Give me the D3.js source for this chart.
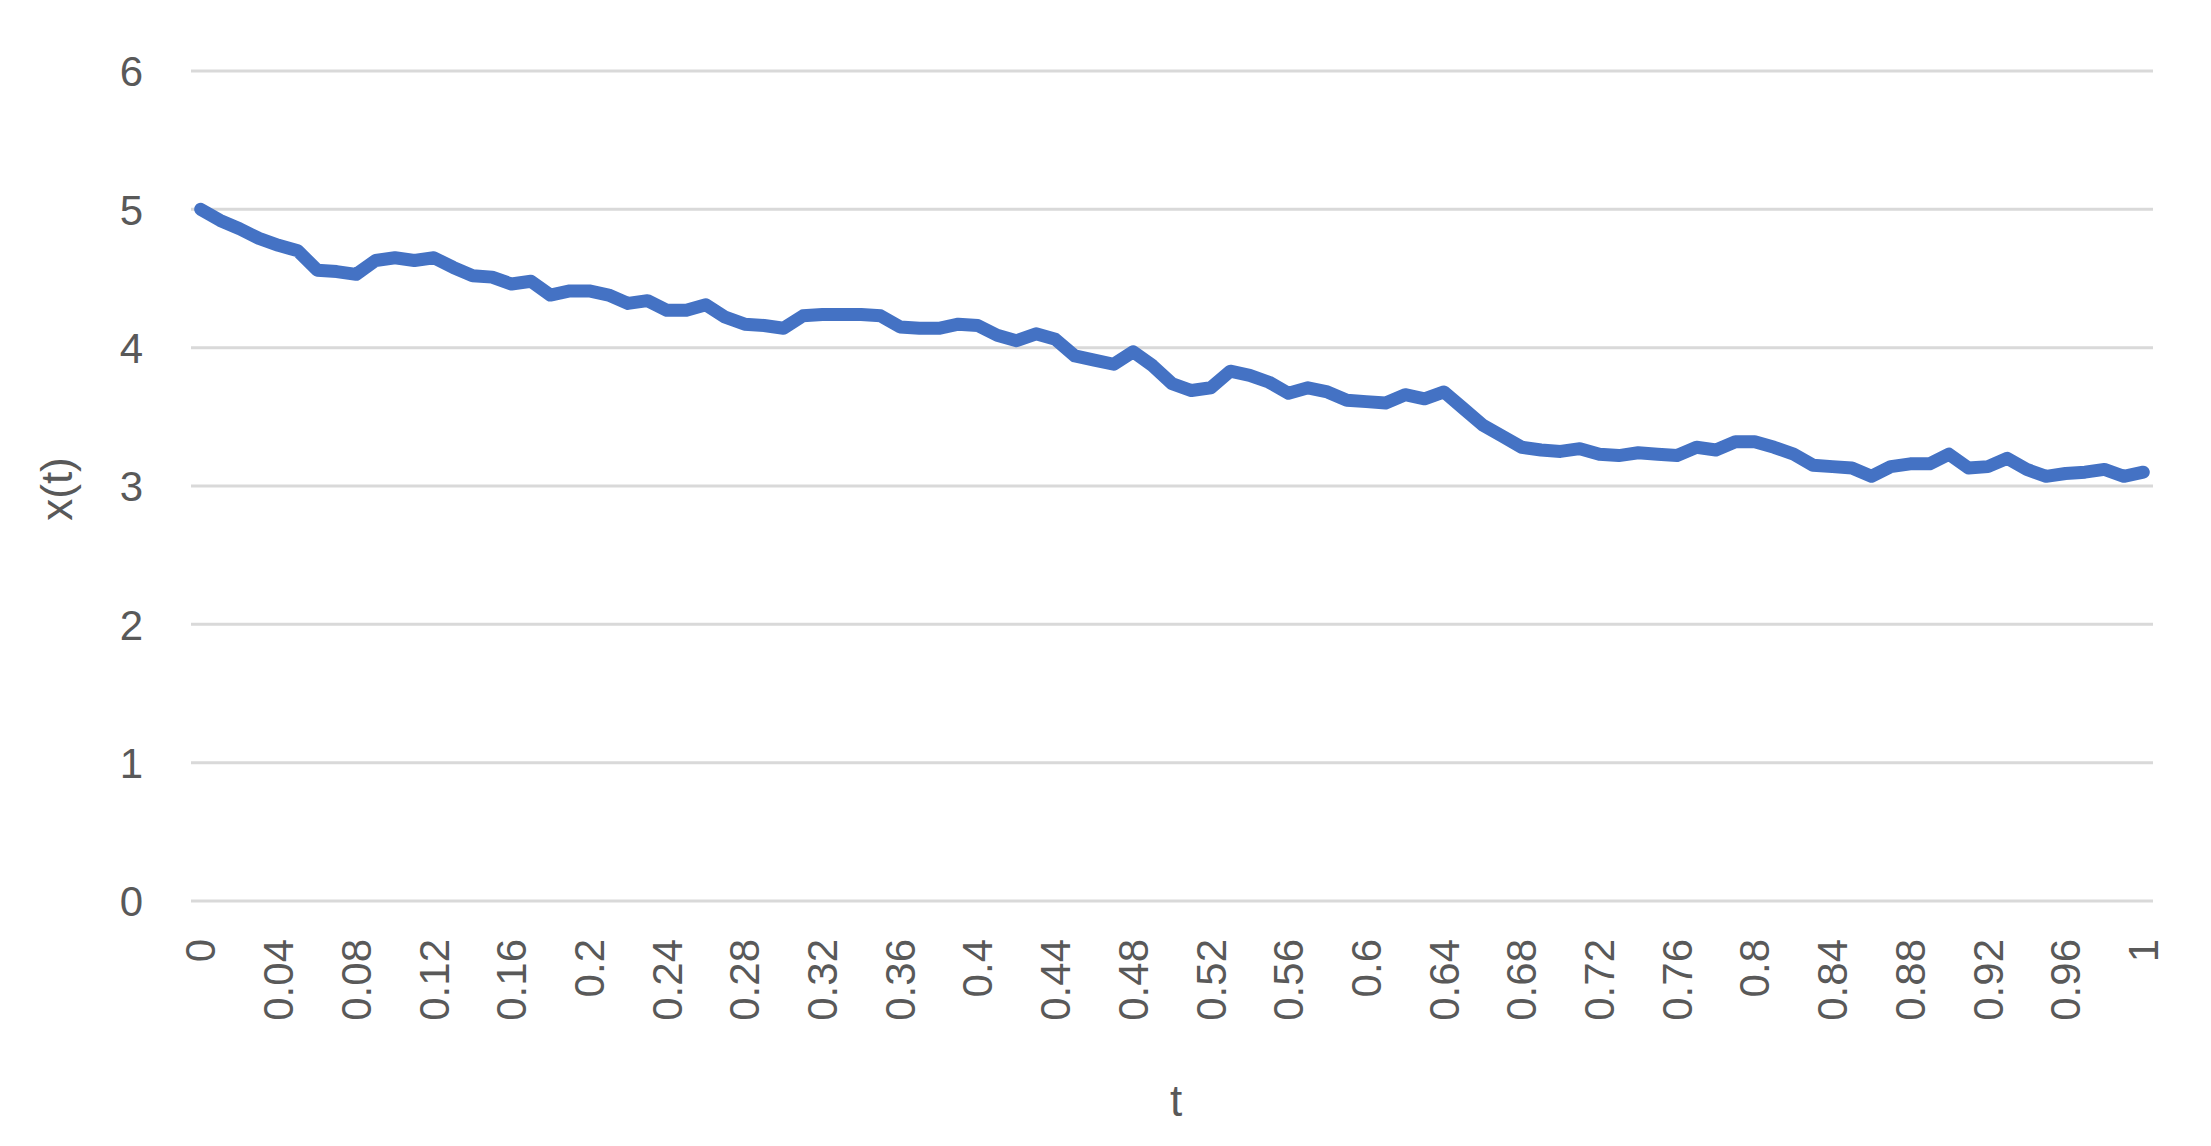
<!DOCTYPE html>
<html>
<head>
<meta charset="utf-8">
<script src="https://cdn.jsdelivr.net/npm/d3@7"></script>
<style>
  body { margin: 0; background: #fff; }
  text { font-family: "Liberation Sans", Arial, sans-serif; fill: #595959; }
</style>
</head>
<body>
<svg id="chart" width="2211" height="1146"></svg>
<script>
// t = 0, 0.01, ..., 1
const tValues = d3.range(101).map(i => +(i / 100).toFixed(2));
const xValues = [
  5.00, 4.92, 4.86, 4.79, 4.74, 4.70, 4.56, 4.55, 4.53, 4.63,
  4.65, 4.63, 4.65, 4.58, 4.52, 4.51, 4.46, 4.48, 4.38, 4.41,
  4.41, 4.38, 4.32, 4.34, 4.27, 4.27, 4.31, 4.22, 4.17, 4.16,
  4.14, 4.23, 4.24, 4.24, 4.24, 4.23, 4.15, 4.14, 4.14, 4.17,
  4.16, 4.09, 4.05, 4.10, 4.06, 3.94, 3.91, 3.88, 3.97, 3.87,
  3.74, 3.69, 3.71, 3.83, 3.80, 3.75, 3.67, 3.71, 3.68, 3.62,
  3.61, 3.60, 3.66, 3.63, 3.68, 3.56, 3.44, 3.36, 3.28, 3.26,
  3.25, 3.27, 3.23, 3.22, 3.24, 3.23, 3.22, 3.28, 3.26, 3.32,
  3.32, 3.28, 3.23, 3.15, 3.14, 3.13, 3.07, 3.14, 3.16, 3.16,
  3.23, 3.13, 3.14, 3.20, 3.12, 3.07, 3.09, 3.10, 3.12, 3.07,
  3.10
];
const yTicks = [0, 1, 2, 3, 4, 5, 6];
const xTickLabels = tValues.filter((d, i) => i % 4 === 0);

const svg = d3.select("#chart");
const margin = {left: 191, right: 58, top: 71, bottom: 245};
const width = 2211 - margin.left - margin.right;
const height = 1146 - margin.top - margin.bottom;

const g = svg.append("g").attr("transform", `translate(${margin.left},${margin.top})`);

const x = d3.scaleBand().domain(tValues).range([0, width]);
const y = d3.scaleLinear().domain([0, 6]).range([height, 0]);

// gridlines
g.selectAll(".grid")
  .data(yTicks)
  .enter().append("line")
  .attr("x1", 0).attr("x2", width)
  .attr("y1", d => y(d)).attr("y2", d => y(d))
  .attr("stroke", "#d9d9d9")
  .attr("stroke-width", 3);

// y axis labels
const yAxis = d3.axisLeft(y).tickValues(yTicks).tickSize(0).tickPadding(0).tickFormat(d3.format("d"));
const yg = g.append("g").call(yAxis);
yg.select(".domain").remove();
yg.selectAll("text")
  .attr("x", -48)
  .attr("dy", "0.35em")
  .style("font-size", "42px")
  .style("font-family", "Liberation Sans, Arial, sans-serif")
  .attr("fill", "#595959");

// x axis labels (rotated)
const xAxis = d3.axisBottom(x).tickValues(xTickLabels).tickSize(0).tickFormat(d => String(d));
const xg = g.append("g").attr("transform", `translate(0,${height})`).call(xAxis);
xg.select(".domain").remove();
xg.selectAll("text")
  .attr("transform", "rotate(-90)")
  .attr("x", -38)
  .attr("y", 0)
  .attr("dy", "0.35em")
  .style("text-anchor", "end")
  .style("font-size", "42px")
  .style("font-family", "Liberation Sans, Arial, sans-serif")
  .attr("fill", "#595959");

// line
const line = d3.line()
  .x((d, i) => x(tValues[i]) + x.bandwidth() / 2)
  .y(d => y(d));

g.append("path")
  .datum(xValues)
  .attr("fill", "none")
  .attr("stroke", "#4472C4")
  .attr("stroke-width", 13)
  .attr("stroke-linejoin", "round")
  .attr("stroke-linecap", "round")
  .attr("d", line);

// axis titles
svg.append("text")
  .attr("x", 1176).attr("y", 1116)
  .attr("text-anchor", "middle")
  .style("font-size", "44px")
  .text("t");

svg.append("text")
  .attr("transform", "translate(72,489) rotate(-90)")
  .attr("text-anchor", "middle")
  .style("font-size", "44px")
  .text("x(t)");
</script>
</body>
</html>
